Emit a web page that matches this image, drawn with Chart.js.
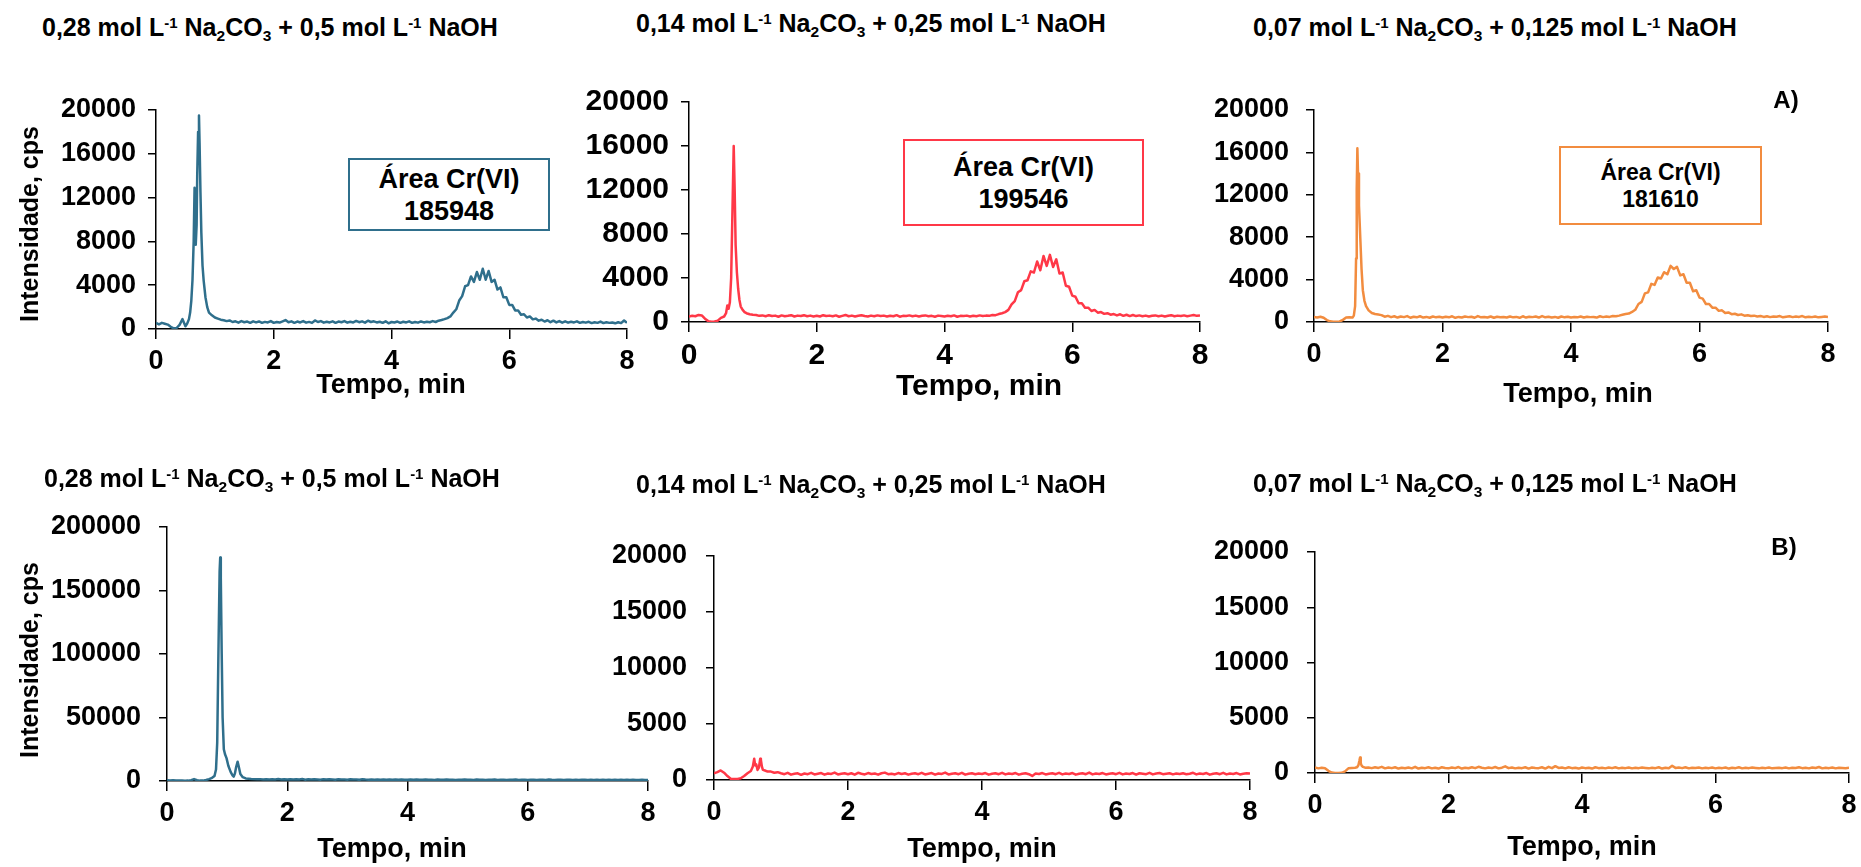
<!DOCTYPE html>
<html>
<head>
<meta charset="utf-8">
<script src="https://cdn.jsdelivr.net/npm/chart.js@4.4.0/dist/chart.umd.min.js"></script>
<style>
  html,body{margin:0;padding:0;background:#fff;}
  #wrap{position:relative;width:1861px;height:867px;overflow:hidden;background:#fff;font-family:'Liberation Sans',Arial,sans-serif;color:#000;}
  canvas{position:absolute;}
  .ttl{position:absolute;font-weight:bold;font-size:25px;line-height:25px;white-space:nowrap;}
  .ttl sup{font-size:0.6em;position:relative;top:-0.55em;vertical-align:baseline;}
  .ttl sub{font-size:0.62em;position:relative;top:0.32em;vertical-align:baseline;}
  .axt{position:absolute;font-weight:bold;font-size:27px;line-height:27px;white-space:nowrap;transform:translate(-50%,-50%);}
  .yt{font-size:25px;transform:translate(-50%,-50%) rotate(-90deg);}
  .box{position:absolute;box-sizing:border-box;border:2px solid;background:#fff;font-weight:bold;text-align:center;display:flex;flex-direction:column;justify-content:center;}
  .lab{position:absolute;font-weight:bold;font-size:24px;transform:translate(-50%,-50%);}
</style>
</head>
<body>
<div id="wrap">
  <div class="ttl" style="left:42px;top:15px">0,28 mol L<sup>-1</sup> Na<sub>2</sub>CO<sub>3</sub> + 0,5 mol L<sup>-1</sup> NaOH</div>
  <div class="ttl" style="left:636px;top:11px">0,14 mol L<sup>-1</sup> Na<sub>2</sub>CO<sub>3</sub> + 0,25 mol L<sup>-1</sup> NaOH</div>
  <div class="ttl" style="left:1253px;top:15px">0,07 mol L<sup>-1</sup> Na<sub>2</sub>CO<sub>3</sub> + 0,125 mol L<sup>-1</sup> NaOH</div>
  <div class="ttl" style="left:44px;top:466px">0,28 mol L<sup>-1</sup> Na<sub>2</sub>CO<sub>3</sub> + 0,5 mol L<sup>-1</sup> NaOH</div>
  <div class="ttl" style="left:636px;top:472px">0,14 mol L<sup>-1</sup> Na<sub>2</sub>CO<sub>3</sub> + 0,25 mol L<sup>-1</sup> NaOH</div>
  <div class="ttl" style="left:1253px;top:471px">0,07 mol L<sup>-1</sup> Na<sub>2</sub>CO<sub>3</sub> + 0,125 mol L<sup>-1</sup> NaOH</div>

  <div class="axt yt" style="left:29px;top:224px">Intensidade, cps</div>
  <div class="axt yt" style="left:29px;top:660px">Intensidade, cps</div>
  <div class="axt" style="left:391px;top:384px">Tempo, min</div>
  <div class="axt" style="left:979px;top:384px;font-size:30px">Tempo, min</div>
  <div class="axt" style="left:1578px;top:393px">Tempo, min</div>
  <div class="axt" style="left:392px;top:848px">Tempo, min</div>
  <div class="axt" style="left:982px;top:848px">Tempo, min</div>
  <div class="axt" style="left:1582px;top:846px">Tempo, min</div>

  <div class="lab" style="left:1786px;top:100px">A)</div>
  <div class="lab" style="left:1784px;top:547px">B)</div>
</div>
<script>
// ---------------- DATA ----------------
const BLUE = '#2F6F8C', RED = '#FF3847', ORANGE = '#F28C3F';

const timeGrid = [
0,0.05,0.1,0.15,0.2,0.25,0.3,0.35,0.4,0.45,0.5,0.55,0.6,0.65,0.7,0.75,0.8,0.85,0.9,0.95,
1,1.05,1.1,1.15,1.2,1.25,1.3,1.35,1.4,1.45,1.5,1.55,1.6,1.65,1.7,1.75,1.8,1.85,1.9,1.95,
2,2.05,2.1,2.15,2.2,2.25,2.3,2.35,2.4,2.45,2.5,2.55,2.6,2.65,2.7,2.75,2.8,2.85,2.9,2.95,
3,3.05,3.1,3.15,3.2,3.25,3.3,3.35,3.4,3.45,3.5,3.55,3.6,3.65,3.7,3.75,3.8,3.85,3.9,3.95,
4,4.05,4.1,4.15,4.2,4.25,4.3,4.35,4.4,4.45,4.5,4.55,4.6,4.65,4.7,4.75,4.8,4.85,4.9,4.95,
5,5.05,5.1,5.15,5.2,5.25,5.3,5.35,5.4,5.45,5.5,5.55,5.6,5.65,5.7,5.75,5.8,5.85,5.9,5.95,
6,6.05,6.1,6.15,6.2,6.25,6.3,6.35,6.4,6.45,6.5,6.55,6.6,6.65,6.7,6.75,6.8,6.85,6.9,6.95,
7,7.05,7.1,7.15,7.2,7.25,7.3,7.35,7.4,7.45,7.5,7.55,7.6,7.65,7.7,7.75,7.8,7.85,7.9,7.95,
8];

const xTicks = [0,2,4,6,8];
const yTicksA = [0,4000,8000,12000,16000,20000];
const yTicksB1 = [0,50000,100000,150000,200000];
const yTicksB23 = [0,5000,10000,15000,20000];

// A1: 0,28 mol/L Na2CO3 + 0,5 mol/L NaOH
const a1Grid = [
550,420,560,480,400,200,60,90,380,900,null,null,null,null,null,null,null,null,null,null,
null,null,null,800,720,780,640,700,580,720,620,680,560,700,600,690,560,650,600,720,
560,640,590,700,820,620,700,560,680,600,720,580,650,560,780,640,720,580,660,600,
700,560,680,620,720,580,660,600,740,620,700,580,760,640,700,600,660,560,700,520,
640,600,680,560,660,600,700,560,640,580,690,600,660,620,720,640,760,820,900,1000,
1150,1500,1800,2600,3000,3900,4000,4800,4300,5200,4500,5500,4500,5300,4300,4500,3600,3800,2900,2900,
2200,2200,1700,1700,1300,1350,1050,1150,880,950,760,850,680,800,620,760,600,720,580,700,
580,660,600,700,560,640,580,660,540,620,560,680,540,620,560,600,520,620,540,780,
560];
const a1PeakT = [0.50,0.53,0.56,0.58,0.60,0.62,0.64,0.655,0.665,0.675,0.69,0.70,0.715,0.73,0.74,0.755,0.77,0.79,0.81,0.84,0.87,0.90,0.95,1.00,1.05,1.10];
const a1PeakV = [250,500,900,1500,2600,4500,8000,12900,11500,7700,9500,14000,18000,19500,17000,12500,8800,5800,4400,2900,2000,1500,1250,1050,950,850];

// A2: 0,14 mol/L Na2CO3 + 0,25 mol/L NaOH
const a2Grid = [
500,560,520,640,600,300,80,20,40,120,380,null,null,null,null,null,null,null,null,null,
null,640,560,600,520,620,540,580,480,600,520,560,620,500,580,540,620,520,580,500,
560,500,620,540,580,520,600,480,560,640,520,580,500,560,620,540,500,580,520,600,
540,580,500,560,520,620,480,560,540,600,520,580,500,560,600,520,560,480,580,540,
500,560,520,600,480,560,540,580,500,560,520,600,540,580,560,640,620,720,800,900,
1100,1600,1900,2700,2900,3700,3800,4600,4500,5500,4700,6000,5100,6100,5000,5700,4400,4500,3300,3200,
2400,2300,1700,1700,1300,1300,1000,1100,850,900,740,800,660,720,600,700,560,660,540,640,
540,600,520,580,500,560,600,520,580,500,560,620,520,580,540,600,520,580,640,560,
600];
const a2PeakT = [0.55,0.58,0.60,0.62,0.64,0.66,0.68,0.70,0.715,0.73,0.75,0.77,0.79,0.81,0.84,0.87,0.90,0.95,1.00];
const a2PeakV = [500,800,1500,1200,1800,4000,10000,16000,12000,7000,4500,3000,2000,1400,1100,900,800,700,650];

// A3: 0,07 mol/L Na2CO3 + 0,125 mol/L NaOH
const a3Grid = [
480,420,500,400,180,60,20,30,50,200,420,450,null,null,null,null,null,null,null,null,
null,650,500,580,460,540,420,520,460,560,400,500,440,540,420,480,400,520,440,500,
420,500,440,540,400,480,420,520,460,500,400,560,440,480,420,520,400,500,440,480,
420,520,440,480,400,540,420,500,460,520,420,560,440,500,420,480,400,520,440,500,
420,480,440,520,420,500,460,480,420,540,460,520,480,560,540,600,680,760,800,950,
1150,1700,1900,2700,2800,3600,3500,4200,4100,4700,4500,5300,5000,5200,4400,4500,3700,3700,2900,3000,
2300,2200,1700,1700,1350,1350,1050,1100,850,900,740,780,660,720,600,640,560,600,520,560,
480,540,460,520,500,560,440,500,540,460,520,480,560,440,500,460,520,440,480,520,
460];
const a3PeakT = [0.60,0.62,0.64,0.655,0.665,0.675,0.685,0.70,0.72,0.74,0.76,0.785,0.81,0.85,0.90,0.95,1.00];
const a3PeakV = [430,600,1500,6000,12500,16400,14000,11000,8000,5000,3000,2000,1500,1100,850,750,700];

// B1
const b1Grid = [
500,450,500,420,380,300,260,300,700,1500,600,300,null,null,null,null,null,null,null,null,
null,null,null,null,null,null,null,null,null,null,null,1300,1200,1400,1100,1300,1200,1500,1100,1400,
1200,1400,1100,1300,1200,1500,1000,1300,1100,1400,1200,1000,1300,1100,1400,1200,1000,1300,1100,1200,
1000,1300,1100,1200,900,1300,1100,1000,1200,900,1100,1000,1200,900,1100,1000,1200,900,1100,1000,
900,1100,1000,1200,900,1000,1100,900,1000,800,1100,900,1000,1100,900,1000,800,1000,900,1100,
900,1000,800,1100,900,1000,800,1000,900,1100,800,1000,900,800,1000,900,1100,800,900,1000,
800,1000,900,800,1000,900,800,1100,900,800,1000,900,800,900,1000,800,900,800,1000,900,
800,900,800,1000,800,900,700,900,800,1000,800,900,700,900,800,900,800,700,900,800,
800];
const b1PeakT = [0.60,0.65,0.70,0.75,0.79,0.815,0.835,0.855,0.875,0.885,0.895,0.91,0.925,0.945,0.965,0.99,1.02,1.06,1.09,1.11,1.13,1.15,1.175,1.195,1.22,1.26,1.31,1.40,1.50];
const b1PeakV = [300,800,1500,2500,4000,9000,30000,100000,165000,176000,160000,100000,50000,25000,21000,18000,12000,7000,4500,3500,6000,11000,15200,11000,5500,3000,2000,1500,1300];

// B2
const b2Grid = [
600,700,850,650,350,120,80,100,150,350,600,null,null,null,null,null,null,750,650,700,
600,520,640,480,560,600,460,580,520,640,500,560,620,480,580,540,660,500,560,600,
520,600,480,640,560,500,620,540,580,480,600,660,520,560,500,620,540,600,480,560,
600,520,640,500,560,620,480,580,540,660,500,560,600,520,640,480,560,600,520,580,
540,620,480,560,600,520,640,500,580,540,620,480,560,600,520,360,580,540,620,500,
560,600,520,640,500,580,540,620,480,560,600,520,660,500,580,540,620,500,560,600,
520,640,500,580,540,620,480,600,560,520,640,500,580,620,520,560,600,500,580,540,
600,520,560,640,500,580,540,620,480,560,600,520,640,500,580,540,620,500,560,600,
580];
const b2PeakT = [0.55,0.58,0.60,0.615,0.63,0.65,0.67,0.69,0.70,0.715,0.73,0.76,0.80];
const b2PeakV = [800,1200,1900,1300,1400,900,1100,1900,1800,1200,900,850,750];

// B3
const b3Grid = [
500,420,480,430,200,40,0,0,20,150,420,460,null,null,null,null,500,440,520,460,
560,420,500,440,520,400,480,430,500,420,560,400,480,440,520,420,480,400,520,460,
420,500,440,540,400,480,430,520,440,560,480,420,500,440,540,420,480,600,440,500,
420,480,440,520,400,500,460,440,520,400,560,440,620,460,500,420,520,440,480,400,
500,440,480,400,520,440,480,420,500,440,520,420,480,440,500,420,480,440,500,460,
420,480,440,520,400,480,440,660,460,500,440,520,420,480,460,500,420,480,440,500,
420,480,440,500,400,480,440,520,420,480,440,500,460,420,480,440,500,420,460,480,
440,500,420,480,460,520,440,480,420,500,460,540,420,480,440,500,420,480,460,440,
480];
const b3PeakT = [0.60,0.63,0.65,0.665,0.675,0.685,0.70,0.72,0.75];
const b3PeakV = [480,520,700,1100,1400,900,650,550,480];

// Annotation boxes
const areaLabel = 'Área Cr(VI)';
const areaValues = ['185948','199546','181610'];

// ---------------- LAYOUT ----------------
const panels = [
  {rect:[156,110,627,329], color:BLUE,   grid:a1Grid, pt:a1PeakT, pv:a1PeakV, ymax:20000,  yTicks:yTicksA,  ypad:12, fs:27},
  {rect:[689,102,1200,322], color:RED,   grid:a2Grid, pt:a2PeakT, pv:a2PeakV, ymax:20000,  yTicks:yTicksA,  ypad:12, fs:30},
  {rect:[1314,110,1828,322], color:ORANGE,grid:a3Grid, pt:a3PeakT, pv:a3PeakV, ymax:20000, yTicks:yTicksA,  ypad:17, fs:27},
  {rect:[167,527,648,781], color:BLUE,   grid:b1Grid, pt:b1PeakT, pv:b1PeakV, ymax:200000, yTicks:yTicksB1, ypad:18, fs:27},
  {rect:[714,556,1250,780], color:RED,   grid:b2Grid, pt:b2PeakT, pv:b2PeakV, ymax:20000,  yTicks:yTicksB23, ypad:19, fs:27},
  {rect:[1315,552,1849,773], color:ORANGE,grid:b3Grid, pt:b3PeakT, pv:b3PeakV, ymax:20000, yTicks:yTicksB23, ypad:18, fs:27}
];
const boxes = [
  {rect:[348,158,550,231], color:BLUE,   size:27, value:areaValues[0]},
  {rect:[903,139,1144,226], color:RED,   size:27, value:areaValues[1]},
  {rect:[1559,146,1762,225], color:ORANGE,size:23, value:areaValues[2]}
];

function buildPoints(p){
  const pts = [];
  for (let i = 0; i < timeGrid.length; i++) {
    if (p.grid[i] !== null && p.grid[i] !== undefined) pts.push({x: timeGrid[i], y: p.grid[i]});
  }
  for (let i = 0; i < p.pt.length; i++) pts.push({x: p.pt[i], y: p.pv[i]});
  pts.sort((a,b) => a.x - b.x);
  return pts;
}

Chart.defaults.font.family = "'Liberation Sans', Arial, sans-serif";
const wrap = document.getElementById('wrap');
const L = 140, T = 50, R = 24, B = 60;

panels.forEach(p => {
  const [x0,y0,x1,y1] = p.rect;
  const w = x1 - x0 + L + R, h = y1 - y0 + T + B;
  const cv = document.createElement('canvas');
  cv.width = w; cv.height = h;
  cv.style.left = (x0 - L) + 'px'; cv.style.top = (y0 - T) + 'px';
  cv.style.width = w + 'px'; cv.style.height = h + 'px';
  wrap.insertBefore(cv, wrap.firstChild);
  const tickFont = {size:p.fs, weight:'bold'};
  new Chart(cv, {
    type:'line',
    data:{datasets:[{data:buildPoints(p), borderColor:p.color, borderWidth:2.5, pointRadius:0, tension:0, fill:false, borderJoinStyle:'round'}]},
    options:{
      responsive:false, animation:false,
      layout:{padding:{left:0, top:T, right:R, bottom:0}},
      plugins:{legend:{display:false}, tooltip:{enabled:false}},
      scales:{
        x:{type:'linear', min:0, max:8,
           afterBuildTicks: s => { s.ticks = xTicks.map(v => ({value:v})); },
           afterFit: s => { s.height = B; },
           ticks:{font:tickFont, color:'#000', padding:6, maxRotation:0, autoSkip:false, callback: v => String(v)},
           grid:{drawOnChartArea:false, drawTicks:true, tickLength:10, color:'#000', lineWidth:1.5},
           border:{display:true, color:'#000', width:1.5}},
        y:{type:'linear', min:0, max:p.ymax,
           afterBuildTicks: s => { s.ticks = p.yTicks.map(v => ({value:v})); },
           afterFit: s => { s.width = L; },
           ticks:{font:tickFont, color:'#000', padding:p.ypad, autoSkip:false, callback: v => String(v)},
           grid:{drawOnChartArea:false, drawTicks:true, tickLength:8, color:'#000', lineWidth:1.5},
           border:{display:true, color:'#000', width:1.5}}
      }
    }
  });
});

boxes.forEach(b => {
  const [x0,y0,x1,y1] = b.rect;
  const d = document.createElement('div');
  d.className = 'box';
  d.style.left = x0 + 'px'; d.style.top = y0 + 'px';
  d.style.width = (x1 - x0) + 'px'; d.style.height = (y1 - y0) + 'px';
  d.style.borderColor = b.color;
  d.style.fontSize = b.size + 'px';
  d.style.lineHeight = Math.round(b.size * 1.18) + 'px';
  d.innerHTML = '<div>' + areaLabel + '</div><div>' + b.value + '</div>';
  wrap.appendChild(d);
});
</script>
</body>
</html>
